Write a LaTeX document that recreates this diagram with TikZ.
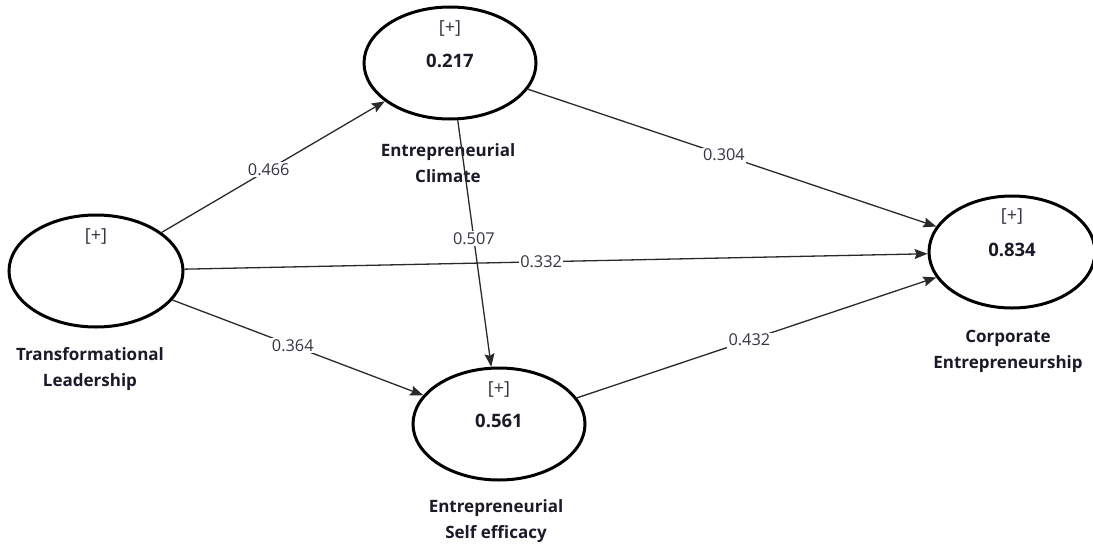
\documentclass[tikz,border=0pt]{standalone}
\usepackage{fontspec}
\setmainfont{Open Sans}
\usetikzlibrary{shapes.geometric,arrows.meta}
\definecolor{txt}{HTML}{1A1A28}
\definecolor{lbl}{HTML}{353545}
\definecolor{ln}{HTML}{2A2A2A}
\tikzset{
  lvbox/.style={draw=black, line width=3pt, ellipse, minimum width=#1, minimum height=112pt, inner sep=0pt},
  plustxt/.style={font=\fontsize{18}{18}\selectfont, text=lbl},
  valtxt/.style={font=\fontsize{18.5}{18.5}\selectfont\bfseries, text=txt},
  lvname/.style={font=\fontsize{17}{26}\selectfont\bfseries, text=txt, align=center},
  pth/.style={draw=ln, line width=1.3pt, -{Stealth[length=13pt,width=10pt,inset=2pt]}},
  coef/.style={font=\fontsize{16.3}{16.3}\selectfont, text=lbl, fill=white, inner sep=1.5pt, pos=0.48}
}
\begin{document}
\begin{tikzpicture}[x=1pt,y=-1pt]
\path[use as bounding box, fill=white] (0,0) rectangle (1093,544);
% latent variables
\node[lvbox=172pt] (cl) at (450,63) {};
\node[lvbox=174pt] (tl) at (96,271) {};
\node[lvbox=172pt] (se) at (499,424) {};
\node[lvbox=166pt] (ce) at (1012,252) {};
% inner texts
\node[plustxt] (clp) at (450,28) {[+]};
\node[valtxt] (clv) at (450,61) {0.217};
\node[plustxt] (tlp) at (96,236) {[+]};
\node[plustxt] (sep) at (499,389) {[+]};
\node[valtxt] (sev) at (499,421) {0.561};
\node[plustxt] (cep) at (1012,216) {[+]};
\node[valtxt] (cev) at (1012,250) {0.834};
% names
\node[lvname] (cln) at (448,163) {Entrepreneurial\\Climate};
\node[lvname] (tln) at (90,369) {Transformational\\Leadership};
\node[lvname] (sen) at (496,521) {Entrepreneurial\\Self efficacy};
\node[lvname] (cen) at (1008,351) {Corporate\\Entrepreneurship};
% paths
\draw[pth] (tl) -- node[coef] (c1) {0.466} (cl);
\draw[pth] (cl) -- node[coef] (c2) {0.304} (ce);
\draw[pth] (cl) -- node[coef] (c3) {0.507} (se);
\draw[pth] (tl) -- node[coef] (c4) {0.332} (ce);
\draw[pth] (tl) -- node[coef] (c5) {0.364} (se);
\draw[pth] (se) -- node[coef] (c6) {0.432} (ce);
\end{tikzpicture}
\end{document}
